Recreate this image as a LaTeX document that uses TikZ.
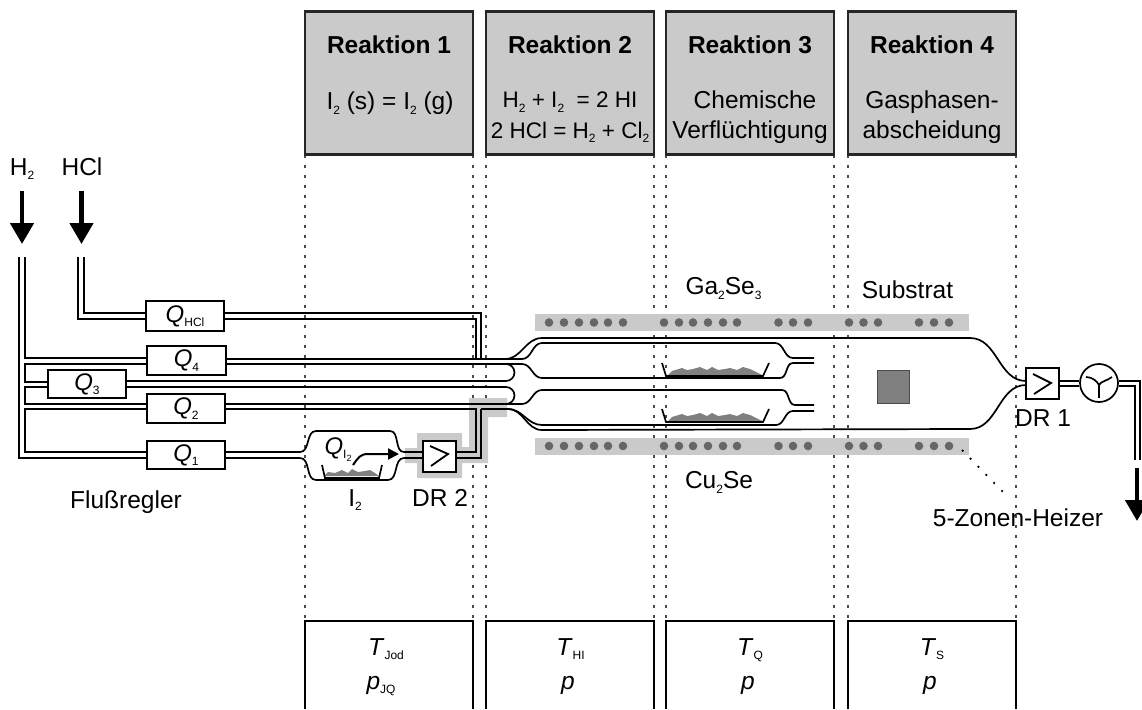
\documentclass[tikz,border=0pt]{standalone}
\usepackage{fontspec}
\setmainfont{Liberation Sans}
\usetikzlibrary{arrows.meta}
\definecolor{boxgray}{HTML}{CACACA}
\definecolor{dotgray}{HTML}{666666}
\definecolor{powder}{HTML}{808080}
\newcommand{\sbs}[1]{\raisebox{-4.5pt}{\fontsize{12}{12}\selectfont #1}}
\newcommand{\ssb}[1]{\raisebox{-2.5pt}{\fontsize{9}{9}\selectfont #1}}
\tikzset{
 x=1pt,y=-1pt,
 lbl/.style={font=\fontsize{24.5}{28}\selectfont,inner sep=0pt,text depth=0pt},
 head/.style={lbl,font=\fontsize{24.5}{28}\selectfont\bfseries},
 chem/.style={lbl,font=\fontsize{22.5}{26}\selectfont},
 tube/.style={line width=1.7pt,line join=miter},
 mfc/.style={draw=black,line width=1.8pt,fill=white,inner sep=0pt,font=\fontsize{24}{28}\selectfont},
 rbox/.style={draw=black!85,line width=2.8pt,fill=boxgray},
 vbox/.style={draw=black,line width=2.8pt},
 guide/.style={line width=1.2pt,dash pattern=on 2.5pt off 7.5pt,color=black!70},
 bigarrow/.style={line width=4.6pt,-{Triangle[length=21pt,width=23pt]}},
 hdot/.style={circle,fill=dotgray,inner sep=0pt,minimum size=8.6pt},
 powderfill/.style={fill=powder,draw=none},
}
\begin{document}
\begin{tikzpicture}
\useasboundingbox (0,0) rectangle (1142,709);
% reaction boxes
\foreach \n/\a/\b in {r1/305/473,r2/486/654,r3/666/834,r4/848/1016}{
  \draw[guide] (\a,155) -- (\a,620);
  \draw[guide] (\b,155) -- (\b,620);
  \draw[rbox] (\a,11.5) rectangle (\b,154.5);
  \draw[vbox] (\a,709) -- (\a,621) -- (\b,621) -- (\b,709);
}
\node[head] (h1) at (389,45) {Reaktion 1};
\node[head] (h2) at (570,45) {Reaktion 2};
\node[head] (h3) at (750,45) {Reaktion 3};
\node[head] (h4) at (932,45) {Reaktion 4};
\node[lbl] (t1) at (390,101) {I\sbs{2} (s) = I\sbs{2} (g)};
\node[chem] (t2a) at (570,100) {H\sbs{2} + I\sbs{2}\ \ = 2 HI};
\node[chem] (t2b) at (570,130) {2 HCl = H\sbs{2} + Cl\sbs{2}};
\node[lbl] (t3a) at (755,100) {Chemische};
\node[lbl] (t3b) at (750,130) {Verflüchtigung};
\node[lbl] (t4a) at (932,100) {Gasphasen-};
\node[lbl] (t4b) at (932,130) {abscheidung};
% bottom labels
\node[lbl] (b1a) at (386,647) {\textit{T}\sbs{Jod}};
\node[lbl,anchor=base] (b1b) at (381,689) {\textit{p}\sbs{JQ}};
\node[lbl] (b2a) at (570.5,647) {\textit{T}\sbs{HI}};
\node[lbl,anchor=base] (b2b) at (568,689) {\textit{p}};
\node[lbl] (b3a) at (750,647) {\textit{T}\sbs{Q}};
\node[lbl,anchor=base] (b3b) at (748,689) {\textit{p}};
\node[lbl] (b4a) at (932,647) {\textit{T}\sbs{S}};
\node[lbl,anchor=base] (b4b) at (930,689) {\textit{p}};
% gray highlight round DR2
\fill[boxgray] (405,448) -- (417,448) -- (417,433) -- (462,433) -- (462,447) -- (469,447) -- (469,398) -- (507,398) -- (507,417) -- (488,417) -- (488,463) -- (462,463) -- (462,478) -- (417,478) -- (417,463) -- (405,463) -- cycle;
% heaters
\fill[boxgray] (535,314) rectangle (969,331);
\fill[boxgray] (535,438) rectangle (969,455);
\foreach \x in {549,564,579,594,608,623,664,679,693,708,723,737,778.5,793,808,849,863.5,878,919,934,949}{
  \node[hdot] at (\x,322.5) {};
  \node[hdot] at (\x,446) {};
}
% feed lines
\draw[tube] (19,257) -- (19,458) -- (147,458);
\draw[tube] (25,257) -- (25,358) -- (147,358);
\draw[tube] (147,364) -- (25,364) -- (25,382) -- (48,382);
\draw[tube] (48,387) -- (25,387) -- (25,404) -- (147,404);
\draw[tube] (147,409) -- (25,409) -- (25,452) -- (147,452);
\draw[tube] (78,257) -- (78,319) -- (146,319);
\draw[tube] (84,257) -- (84,313) -- (146,313);
\draw[tube] (224,313) -- (481,313) -- (481,359);
\draw[tube] (224,319) -- (476,319) -- (476,359);
\draw[tube] (226,359) -- (505,359);
% outer reactor tube
\draw[tube] (481,359) -- (505,359) to[out=0,in=180] (542,338) -- (970,338) to[out=0,in=180] (1026,381);
\draw[tube] (481,409) -- (508,409) to[out=0,in=180] (542,430) -- (970,429) to[out=0,in=180] (1026,385);
% upper inner tube
\draw[tube] (505,359) -- (522,359) to[out=0,in=180] (542,343) -- (775,343) to[out=0,in=180] (793,358) -- (814,358);
\draw[tube] (226,364) -- (522,364) to[out=0,in=180] (542,378) -- (780,378) to[out=0,in=180] (793,363) -- (814,363);
\draw[tube] (506,364) arc[start angle=-90,end angle=90,radius=8.5,y=-1pt];
\draw[tube] (126,381) -- (506,381);
% lower inner tube
\draw[tube] (126,387) -- (506,387);
\draw[tube] (506,387) arc[start angle=-90,end angle=90,radius=8.5,y=-1pt];
\draw[tube] (225,404) -- (522,404) to[out=0,in=180] (542,390) -- (782,390) to[out=0,in=180] (795,405) -- (814,405);
\draw[tube] (508,409) to[out=0,in=180] (542,425) -- (776,425) to[out=0,in=180] (793,411) -- (814,411);
\draw[tube] (225,409) -- (476,409) -- (476,452) -- (456,452);
\draw[tube] (481,409) -- (481,458) -- (456,458);
% iodine source
\draw[tube] (225,452) -- (300,452) to[out=0,in=180] (316,431) -- (390,431) to[out=0,in=180] (404,452) -- (423,452);
\draw[tube] (225,458) -- (300,458) to[out=0,in=180] (316,480) -- (388,480) to[out=0,in=180] (404,458) -- (423,458);
\fill[powderfill] (324,476) -- (328,472) -- (335,473) -- (342,470) -- (348,473) -- (352,469) -- (358,472) -- (365,471) -- (370,470) -- (375,473) -- (379,476) -- cycle;
\draw[tube] (322,465) -- (325,478) -- (379,478) -- (382,465);
\coordinate (iodfrom) at (353,465);
\coordinate (iodto) at (399,454);
\draw[line width=2pt,-{Triangle[length=11pt,width=11pt]}] (iodfrom) .. controls (358,458) and (360,454) .. (368,454) -- (iodto);
\node[lbl,font=\fontsize{24}{28}\selectfont] (qi) at (338,446) {\textit{Q}\sbs{I\ssb{2}}};
\node[lbl] (i2) at (355,498) {I\sbs{2}};
\node[lbl] (dr2l) at (440,498) {DR 2};
% boats
\foreach \s in {0,46}{
\begin{scope}[shift={(0,\s)}]
\fill[powderfill] (668,375) -- (672,371) -- (682,368) -- (687,370) -- (693,369) -- (700,367) -- (707,370) -- (712,367) -- (718,370) -- (725,369) -- (730,368) -- (737,370) -- (743,367) -- (750,369) -- (762,375) -- cycle;
\draw[tube] (662,363) -- (666,376) -- (763,376) -- (769,363);
\end{scope}}
% substrate
\draw[fill=powder,line width=1pt,draw=black!70] (877,370) rectangle (909,403);
% flow controllers
\node[mfc,minimum width=78pt,minimum height=30pt] (qhcl) at (185,316) {\textit{Q}\sbs{HCl}};
\node[mfc,minimum width=79pt,minimum height=29pt] (q4) at (186.5,360.5) {\textit{Q}\sbs{4}};
\node[mfc,minimum width=78pt,minimum height=28pt] (q3) at (87,384) {\textit{Q}\sbs{3}};
\node[mfc,minimum width=78pt,minimum height=29pt] (q2) at (186,408.5) {\textit{Q}\sbs{2}};
\node[mfc,minimum width=78pt,minimum height=28pt] (q1) at (186,455) {\textit{Q}\sbs{1}};
% DR2 valve
\node[mfc,minimum width=33pt,minimum height=31pt] (dr2) at (439.5,456.5) {};
\draw[line width=1.8pt] (430,446) -- (448,454) -- (431,466);
% DR1 and pump
\node[mfc,minimum width=33pt,minimum height=31pt] (dr1) at (1042.5,383.5) {};
\draw[line width=1.8pt] (1033,374) -- (1051,383) -- (1034,394);
\node[circle,draw=black,line width=1.7pt,fill=white,minimum size=38pt,inner sep=0pt] (pump) at (1099,383) {};
\draw[tube] (dr1.east |- 0,381) -- (pump.west |- 0,381);
\draw[tube] (dr1.east |- 0,386) -- (pump.west |- 0,386);
\draw[line width=1.7pt] (1086,377) .. controls (1092,377) and (1097,381) .. (1099,385) .. controls (1101,381) and (1107,381) .. (1112,377);
\draw[line width=1.7pt] (1099,385) -- (1099,398);
\draw[tube] (pump.east |- 0,381) -- (1140,381) -- (1140,460);
\draw[tube] (pump.east |- 0,386) -- (1135,386) -- (1135,460);
\node[lbl] (dr1l) at (1043,418) {DR 1};
% big arrows
\coordinate (h2a) at (22,191); \coordinate (h2b) at (22,244);
\coordinate (hcla) at (81.5,191); \coordinate (hclb) at (81.5,244);
\coordinate (outa) at (1137,468); \coordinate (outb) at (1137,521);
\draw[bigarrow] (h2a) -- (h2b);
\draw[bigarrow] (hcla) -- (hclb);
\draw[bigarrow] (outa) -- (outb);
% labels
\node[lbl] (lh2) at (22,167) {H\sbs{2}};
\node[lbl] (lhcl) at (82,167) {HCl};
\node[lbl] (lga) at (723.5,286) {Ga\sbs{2}Se\sbs{3}};
\node[lbl] (lsub) at (907.5,290) {Substrat};
\node[lbl] (lcu) at (719,480) {Cu\sbs{2}Se};
\node[lbl] (lflu) at (126,500) {Flußregler};
\node[lbl] (lzon) at (1018,518) {5-Zonen-Heizer};
\coordinate (heat) at (962,450);
\coordinate (heatl) at (1003,492);
\draw[line width=1.8pt,dash pattern=on 1.8pt off 9.5pt] (heat) -- (heatl);
\end{tikzpicture}
\end{document}
